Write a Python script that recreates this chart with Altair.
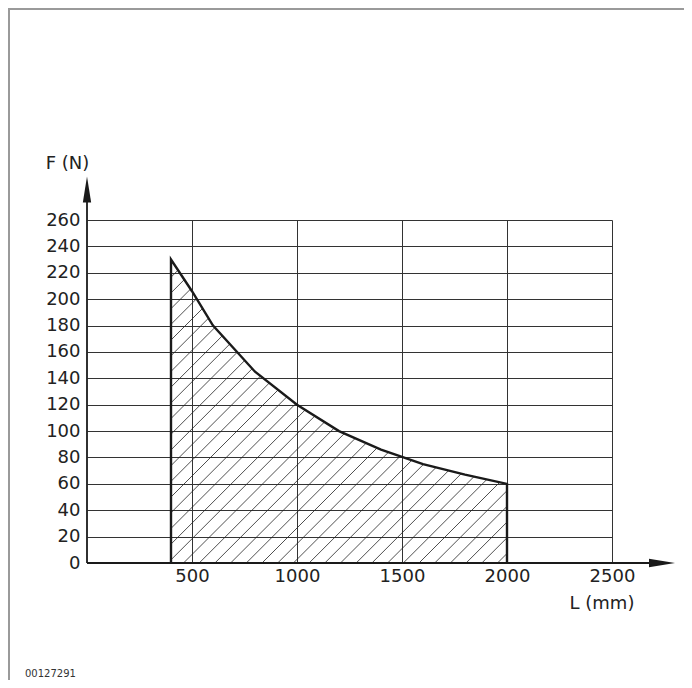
import altair as alt
import pandas as pd

# ---- data ----
L_mm = [400, 500, 600, 800, 1000, 1200, 1400, 1600, 1800, 2000]
F_N = [230, 206, 180, 145, 120, 100, 86, 75, 67, 60]
x_ticks = [500, 1000, 1500, 2000, 2500]
y_ticks = list(range(0, 261, 20))
x_max, y_max = 2500, 260
x_axis_end, y_axis_end = 2800, 293
x_title = "L (mm)"
y_title = "F (N)"
doc_id = "00127291"

# ---- layout ----
W, H = 525, 343
FONT = "DejaVu Sans"
INK = "#1a1a1a"

# ---- hatch lines (45 deg in screen space) clipped to the area under the curve ----
sx, sy = W / x_max, H / y_max
u = [v * sx for v in L_mm]
v = [f * sy for f in F_N]
uL, uR = u[0], u[-1]
spacing, phase = 15.7, 316.3


def f_at(uu):
    for i in range(len(u) - 1):
        if u[i] <= uu <= u[i + 1]:
            t = (uu - u[i]) / (u[i + 1] - u[i])
            return v[i] + t * (v[i + 1] - v[i])
    return v[-1]


hatch = []
k = -60
while True:
    c = phase + k * spacing
    k += 1
    if c > uR:
        break
    if c >= uL:
        su, sv = c, 0.0
    else:
        su, sv = uL, uL - c
        if sv >= f_at(uL):
            continue
    eu = None
    for i in range(len(u) - 1):
        u1, u2, v1, v2 = u[i], u[i + 1], v[i], v[i + 1]
        m = (v2 - v1) / (u2 - u1)
        uu = (v1 - m * u1 + c) / (1 - m)
        if u1 - 1e-9 <= uu <= u2 + 1e-9 and uu >= su:
            eu, ev = uu, uu - c
            break
    if eu is None:
        eu, ev = uR, uR - c
    hatch.append({"x": su / sx, "y": sv / sy, "x2": eu / sx, "y2": ev / sy})
hatch_df = pd.DataFrame(hatch)

outline_df = pd.DataFrame({
    "x": [L_mm[0]] + L_mm + [L_mm[-1]],
    "y": [0] + F_N + [0],
})
outline_df["o"] = range(len(outline_df))

xs = alt.Scale(domain=[0, x_max], nice=False, zero=True)
ys = alt.Scale(domain=[0, y_max], nice=False, zero=True)

x_axis = alt.Axis(values=x_ticks, format="d", grid=True, gridColor="#333", gridWidth=1,
                  domain=False, ticks=False, labelFont=FONT, labelFontSize=18,
                  labelColor="#222", labelPadding=4, labelFlush=False, title=None)
y_axis = alt.Axis(values=y_ticks, format="d", grid=True, gridColor="#333", gridWidth=1,
                  domain=False, ticks=False, labelFont=FONT, labelFontSize=18,
                  labelColor="#222", labelPadding=7, labelFlush=False, title=None)


def X(f="x"):
    return alt.X(f"{f}:Q", scale=xs, axis=x_axis)


def Y(f="y"):
    return alt.Y(f"{f}:Q", scale=ys, axis=y_axis)


hatch_layer = alt.Chart(hatch_df).mark_rule(color="#222", strokeWidth=0.8).encode(
    x=X(), y=Y(), x2="x2:Q", y2="y2:Q",
)

outline = alt.Chart(outline_df).mark_line(color=INK, strokeWidth=2.4, strokeJoin="miter").encode(
    x=X(), y=Y(), order="o:Q",
)

axes_df = pd.DataFrame({
    "x": [0, 0], "y": [0, 0],
    "x2": [x_axis_end - 60, 0], "y2": [0, y_axis_end - 10],
})
axis_lines = alt.Chart(axes_df).mark_rule(color=INK, strokeWidth=1.8).encode(
    x=X(), y=Y(), x2="x2:Q", y2="y2:Q",
)

x_arrow = alt.Chart(pd.DataFrame({"x": [x_axis_end], "y": [0]})).mark_point(
    shape="M0,0 L-2,-0.32 L-2,0.32 Z", size=676, filled=True, color=INK, opacity=1
).encode(x=X(), y=Y())

y_arrow = alt.Chart(pd.DataFrame({"x": [0], "y": [y_axis_end]})).mark_point(
    shape="M0,0 L-0.32,2 L0.32,2 Z", size=676, filled=True, color=INK, opacity=1
).encode(x=X(), y=Y())


def label(txt, px, py, size=18, align="center", color="#222"):
    return alt.Chart(alt.Data(values=[{"t": txt}])).mark_text(
        font=FONT, fontSize=size, align=align, baseline="alphabetic", color=color
    ).encode(text="t:N", x=alt.value(px), y=alt.value(py))


y_lab = label(y_title, -19.5, -51)
x_lab = label(x_title, 515, 389)
id_lab = label(doc_id, -62, 457, size=10, align="left", color="#333")

frame = alt.Chart(alt.Data(values=[{"a": 1}])).mark_rule(color="#9a9a9a", strokeWidth=2).encode(
    x=alt.value(-78), x2=alt.value(-78), y=alt.value(-211), y2=alt.value(470)
)
frame_top = alt.Chart(alt.Data(values=[{"a": 1}])).mark_rule(color="#9a9a9a", strokeWidth=2).encode(
    x=alt.value(-79), x2=alt.value(620), y=alt.value(-211), y2=alt.value(-211)
)

chart = alt.layer(
    hatch_layer, outline, axis_lines, x_arrow, y_arrow,
    y_lab, x_lab, id_lab, frame, frame_top,
).properties(
    width=W, height=H,
    autosize=alt.AutoSizeParams(type="none"),
    padding={"left": 79, "top": 212, "right": 72, "bottom": 117},
).configure_view(stroke=None)

chart.save("out.html", embed_options={"renderer": "svg", "actions": False})
